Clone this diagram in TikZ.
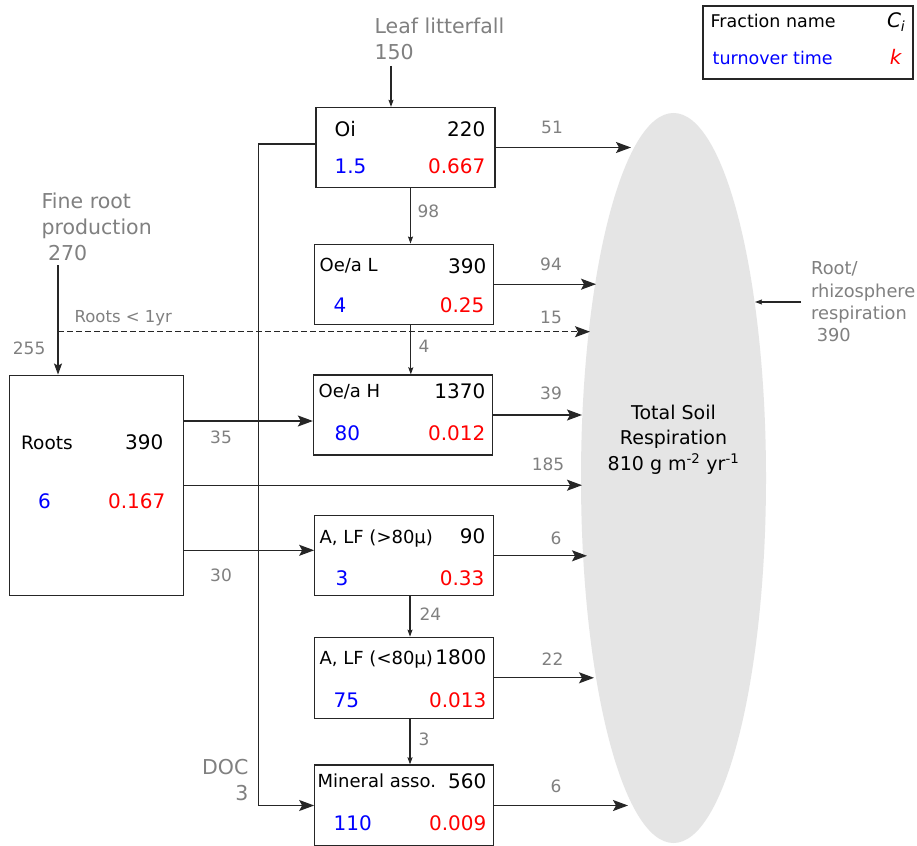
\documentclass[tikz,border=0pt]{standalone}
\usepackage{fontspec}
\setmainfont{DejaVu Sans}
\usetikzlibrary{arrows.meta,shapes.geometric,calc}

\begin{document}
\begin{tikzpicture}[
	x=1pt,y=-1pt,
	line width=1.3pt,
	box/.style={draw=black!85,line width=1.3pt,minimum width=179pt,minimum height=80pt,inner sep=0pt},
	flow/.style={draw=black!85,-{Stealth[length=15pt,width=11pt,inset=3pt]}},
	midflow/.style={draw=black!85,-{Stealth[length=11pt,width=8pt,inset=2pt]}},
	smallflow/.style={draw=black!85,line width=1.1pt,-{Stealth[length=7pt,width=5pt,inset=1pt]}},
	fname/.style={anchor=base west,inner sep=0pt,font=\fontsize{18}{21}\selectfont},
	cval/.style={anchor=base east,inner sep=0pt,font=\fontsize{20}{24}\selectfont},
	tval/.style={anchor=base west,inner sep=0pt,text=blue,font=\fontsize{20}{24}\selectfont},
	kval/.style={anchor=base east,inner sep=0pt,text=red,font=\fontsize{20}{24}\selectfont},
	flab/.style={anchor=base,inner sep=0pt,text=gray,font=\fontsize{17}{20}\selectfont},
	srclab/.style={anchor=base west,inner sep=0pt,text=gray,align=left,font=\fontsize{20.5}{26}\selectfont}
	]
	\path[use as bounding box,fill=white] (0,0) rectangle (917,845);
	
	% total soil respiration
	\node[ellipse,fill=gray!20,minimum width=185pt,minimum height=730pt,inner sep=0pt] (resp) at (673.5,478) {};
	\node[anchor=base,inner sep=0pt,align=center,font=\fontsize{19}{25.5}\selectfont] (resptxt) at (673.5,470) {Total Soil\\Respiration\\810 g m\textsuperscript{-2} yr\textsuperscript{-1}};
	
	% legend
	\node[draw=black!85,minimum width=210pt,minimum height=73pt,inner sep=0pt] (legend) at (808,42.5) {};
	\node[anchor=base west,inner sep=0pt,font=\fontsize{17.5}{21}\selectfont] (lgname) at (710,28) {Fraction name};
	\node[anchor=base east,inner sep=0pt,font=\fontsize{20}{24}\selectfont\itshape] (lgc) at (906,28) {C\textsubscript{i}};
	\node[anchor=base west,inner sep=0pt,text=blue,font=\fontsize{17.5}{21}\selectfont] (lgtau) at (712,65) {turnover time};
	\node[anchor=base east,inner sep=0pt,text=red,font=\fontsize{20}{24}\selectfont\itshape] (lgk) at (902,65) {k};
	
	% pools
	\node[box] (oi) at (405.5,147.5) {};
	\node[box] (oel) at (404.3,284.2) {};
	\node[box] (oeh) at (403,415) {};
	\node[box] (alfc) at (404.3,555.8) {};
	\node[box,minimum height=81pt] (alff) at (404.3,677.8) {};
	\node[box,minimum height=81pt] (mine) at (404.3,805.5) {};
	\node[box,minimum width=174pt,minimum height=220pt] (roots) at (96.8,485.2) {};
	
	\node[fname,font=\fontsize{20}{24}\selectfont] at (334,137) {Oi};
	\node[cval] at (486,137) {220};
	\node[tval] at (334,174) {1.5};
	\node[kval] at (486,174) {0.667};
	
	\node[fname] at (319,271) {Oe/a L};
	\node[cval] at (487,273) {390};
	\node[tval] at (333,312) {4};
	\node[kval] at (485,312) {0.25};
	
	\node[fname] at (318,397) {Oe/a H};
	\node[cval] at (486,398) {1370};
	\node[tval] at (334,440) {80};
	\node[kval] at (486,440) {0.012};
	
	\node[fname] at (319,543) {A, LF (>80µ)};
	\node[cval] at (486,543) {90};
	\node[tval] at (335,585) {3};
	\node[kval] at (485,585) {0.33};
	
	\node[fname] at (319,664) {A, LF (<80µ)};
	\node[cval] at (487,664) {1800};
	\node[tval] at (333,707) {75};
	\node[kval] at (487,707) {0.013};
	
	\node[fname] at (317,787) {Mineral asso.};
	\node[cval] at (487,788) {560};
	\node[tval] at (333,830) {110};
	\node[kval] at (487,830) {0.009};
	
	\node[fname,font=\fontsize{18.5}{22}\selectfont] at (20.5,449) {Roots};
	\node[cval] at (164,449) {390};
	\node[tval] at (37.5,508) {6};
	\node[kval] at (166,508) {0.167};
	
	% inputs
	\node[srclab] (leaf) at (374,59.3) {Leaf litterfall\\150};
	\node[srclab] (fine) at (41,260.7) {Fine root\\production\\\ 270};
	\node[srclab,anchor=base east,align=right] (doc) at (249,800) {DOC\\3};
	\node[srclab,font=\fontsize{17.8}{22.3}\selectfont] (rhizo) at (810.5,341.7) {Root/\\rhizosphere\\respiration\\\ 390};
	
	\coordinate (llf) at (391,66);
	\coordinate (frp) at (58,265);
	\coordinate (rhz) at (801,302);
	
	% ends on the ellipse
	\coordinate (e51) at (631,147.5);
	\coordinate (e94) at (596,284.2);
	\coordinate (e15) at (590,331.7);
	\coordinate (e39) at (582,415);
	\coordinate (e185) at (582,485.2);
	\coordinate (e6a) at (587,555.8);
	\coordinate (e22) at (594,677.8);
	\coordinate (e6b) at (628,805.5);
	\coordinate (erh) at (755,302);
	\coordinate (in35) at ($(oeh.west)+(0,6)$);
	\coordinate (in30) at ($(alfc.west)+(0,-5.5)$);
	
	% connectors
	\draw[smallflow] (llf) -- (llf |- oi.north);
	\draw[midflow] (frp) -- (frp |- roots.north);
	\draw[flow,dash pattern=on 6pt off 3pt,line width=1.1pt] (frp |- e15) -- (e15);
	\draw[flow] ($(oi.west)+(0,-3.5)$) -- ++(-57,0) |- (mine.west);
	\draw[smallflow] ($(oi.south)+(5,0)$) coordinate (d1) -- (d1 |- oel.north);
	\draw[smallflow] ($(oel.south)+(6.5,0)$) coordinate (d2) -- (d2 |- oeh.north);
	\draw[smallflow] ($(alfc.south)+(5.7,0)$) coordinate (d3) -- (d3 |- alff.north);
	\draw[smallflow] ($(alff.south)+(5.7,0)$) coordinate (d4) -- (d4 |- mine.north);
	\draw[flow] (roots.east |- in35) -- (in35);
	\draw[flow] (roots.east |- e185) -- (e185);
	\draw[flow] (roots.east |- in30) -- (in30);
	\draw[flow] (oi) -- (e51);
	\draw[flow] (oel) -- (e94);
	\draw[flow] (oeh) -- (e39);
	\draw[flow] (alfc) -- (e6a);
	\draw[flow] (alff) -- (e22);
	\draw[flow] (mine) -- (e6b);
	\draw[smallflow] (rhz) -- (erh);
	
	% flux labels
	\node[flab] at (552,134) {51};
	\node[flab] at (551,270) {94};
	\node[flab] at (551,323) {15};
	\node[flab] at (551,399) {39};
	\node[flab] at (548,470) {185};
	\node[flab] at (556,544) {6};
	\node[flab] at (552.5,665) {22};
	\node[flab] at (556,792) {6};
	\node[flab,anchor=base west] at (417,217) {98};
	\node[flab,anchor=base west] at (418,352) {4};
	\node[flab,anchor=base west] at (419,620) {24};
	\node[flab,anchor=base west] at (418,745) {3};
	\node[flab] at (221,443) {35};
	\node[flab] at (221,581) {30};
	\node[flab,anchor=base east] at (46,354) {255};
	\node[flab,anchor=base west,font=\fontsize{16.5}{20}\selectfont] at (74,322.5) {Roots < 1yr};
	\end{tikzpicture}
\end{document}
